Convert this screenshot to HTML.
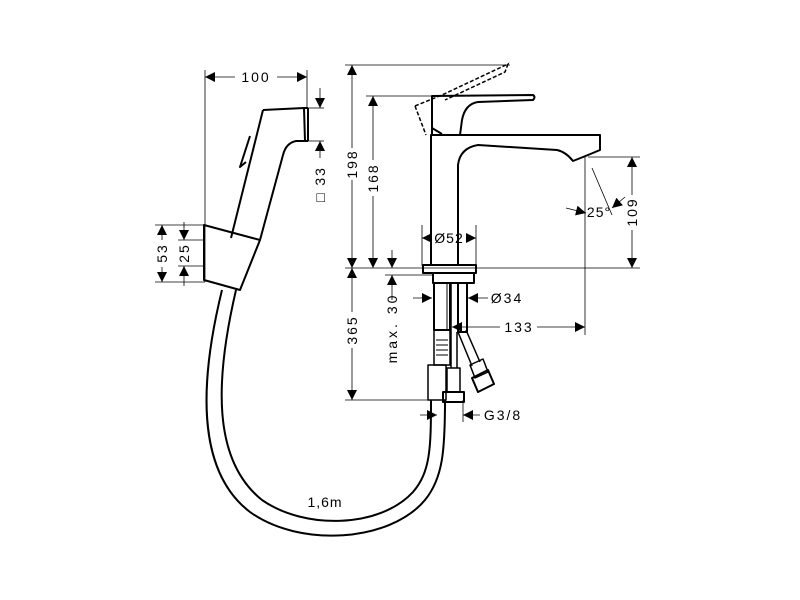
<!DOCTYPE html>
<html><head><meta charset="utf-8"><style>html,body{margin:0;padding:0;background:#fff}svg{display:block}</style></head>
<body>
<svg width="800" height="600" viewBox="0 0 800 600" xmlns="http://www.w3.org/2000/svg" font-family="Liberation Sans, sans-serif" font-size="13" fill="none" stroke="#000">
<defs>
<marker id="a" viewBox="0 0 10 10" refX="10" refY="5" markerWidth="11" markerHeight="10" orient="auto-start-reverse" markerUnits="userSpaceOnUse"><path d="M0,0 L10,5 L0,10z" fill="#000" stroke="none"/></marker>
</defs>
<g stroke-width="0.8">
<line x1="205" y1="70" x2="205" y2="282"/>
<line x1="307" y1="70" x2="307" y2="108"/>
<line x1="205" y1="77" x2="235" y2="77" marker-start="url(#a)"/>
<line x1="277" y1="77" x2="307" y2="77" marker-end="url(#a)"/>
<line x1="155" y1="225" x2="205" y2="225"/>
<line x1="155" y1="282" x2="205" y2="282"/>
<line x1="178" y1="240" x2="205" y2="240"/>
<line x1="178" y1="266" x2="205" y2="266"/>
<line x1="162" y1="240" x2="162" y2="225" marker-end="url(#a)"/>
<line x1="162" y1="267" x2="162" y2="282" marker-end="url(#a)"/>
<line x1="184" y1="222" x2="184" y2="240" marker-end="url(#a)"/>
<line x1="184" y1="286" x2="184" y2="266" marker-end="url(#a)"/>
<line x1="308" y1="108" x2="324" y2="108"/>
<line x1="308" y1="141" x2="324" y2="141"/>
<line x1="320" y1="88" x2="320" y2="108" marker-end="url(#a)"/>
<line x1="320" y1="158" x2="320" y2="141" marker-end="url(#a)"/>
<line x1="345" y1="65" x2="510" y2="65"/>
<line x1="366" y1="96" x2="432" y2="96"/>
<line x1="345" y1="268" x2="640" y2="268"/>
<line x1="352" y1="148" x2="352" y2="65" marker-end="url(#a)"/>
<line x1="352" y1="180" x2="352" y2="268" marker-end="url(#a)"/>
<line x1="373" y1="160" x2="373" y2="96" marker-end="url(#a)"/>
<line x1="373" y1="196" x2="373" y2="268" marker-end="url(#a)"/>
<line x1="345" y1="400" x2="440" y2="400"/>
<line x1="352" y1="312" x2="352" y2="268" marker-end="url(#a)"/>
<line x1="352" y1="348" x2="352" y2="400" marker-end="url(#a)"/>
<line x1="385" y1="275" x2="432" y2="275"/>
<line x1="392" y1="250" x2="392" y2="268" marker-end="url(#a)"/>
<line x1="392" y1="300" x2="392" y2="275" marker-end="url(#a)"/>
<line x1="422" y1="225" x2="422" y2="266"/>
<line x1="476" y1="225" x2="476" y2="266"/>
<line x1="432" y1="238" x2="422" y2="238" marker-end="url(#a)"/>
<line x1="466" y1="238" x2="476" y2="238" marker-end="url(#a)"/>
<line x1="413" y1="298" x2="432" y2="298" marker-end="url(#a)"/>
<line x1="488" y1="298" x2="468" y2="298" marker-end="url(#a)"/>
<line x1="500" y1="327" x2="452" y2="327" marker-end="url(#a)"/>
<line x1="585" y1="157" x2="585" y2="335"/>
<line x1="537" y1="327" x2="585" y2="327" marker-end="url(#a)"/>
<line x1="588" y1="157" x2="640" y2="157"/>
<line x1="632" y1="195" x2="632" y2="157" marker-end="url(#a)"/>
<line x1="632" y1="230" x2="632" y2="268" marker-end="url(#a)"/>
<line x1="592" y1="168" x2="612" y2="215"/>
<line x1="566" y1="208" x2="586" y2="213" marker-end="url(#a)"/>
<line x1="625" y1="197" x2="612" y2="208" marker-end="url(#a)"/>
<line x1="463" y1="400" x2="463" y2="422"/>
<line x1="420" y1="415" x2="437" y2="415" marker-end="url(#a)"/>
<line x1="480" y1="415" x2="463" y2="415" marker-end="url(#a)"/>
</g>
<g stroke-width="2" stroke-linejoin="round">
<path d="M263,110 L304,108 L305,141 L296,141 Q286,143 283,155 L260,240"/>
<path d="M263,110 L231,238"/>
<line x1="304" y1="108" x2="308" y2="108"/><line x1="308" y1="108" x2="308" y2="141"/><line x1="305" y1="141" x2="308" y2="141"/>
<path d="M250,136 L240,167 L246,162"/>
<path d="M204,225 L260,240 L240,290 L204,280 Z"/>
<path d="M222,290 C200,380 195,470 250,512 C300,548 390,542 425,500 C443,478 445,450 445,400"/>
<path d="M236,290 C215,380 212,460 262,500 C305,530 380,528 413,492 C430,472 431,450 431,400"/>
</g>
<g stroke-width="2" stroke-linejoin="round">
<path d="M431,265 L431,135 L600,135 L600,150 L588,155 L573,161 Q566,152 557,150 L478,145 Q460,148 458,165 L458,265"/>
<path d="M432,135 L432,96 L533,95 Q536,97 533,100 L478,102 Q465,104 462,120 L460,135"/>
<path d="M432,128 L442,134"/>
<path d="M423,265 L476,265 L476,273 L423,273 Z"/>
<path d="M433,273 L474,273 L474,283 L433,283 Z"/>
<path d="M434,283 L434,330 L450,330 L450,283"/>
<line x1="447" y1="283" x2="447" y2="330" stroke-width="1"/>
<path d="M458,283 L458,332 L467,332 L467,283"/>
<path d="M434,330 L434,365 L450,365 L450,330" stroke-width="1.5"/>
<path d="M436,340 L448,340 M436,345 L448,345 M436,350 L448,350 M436,355 L448,355" stroke-width="1"/>
<path d="M428,365 L446,365 L446,400 L428,400 Z" stroke-width="1.5"/>
<path d="M451,283 L451,368 M457,332 L457,368" stroke-width="1.5"/>
<path d="M447,368 L460,368 L460,392 L447,392 Z" stroke-width="1.5"/>
<path d="M443,392 L464,392 L464,402 L443,402 Z"/>
<path d="M458,332 L472,366 M466,330 L480,362" stroke-width="1.5"/>
<path d="M470,365 L483,359 L488,372 L475,378 Z" stroke-width="1.5"/>
<path d="M472,378 L488,370 L494,384 L478,392 Z"/>
</g>
<path d="M415,106 L442,95 L508,64 L505,72 L445,100 M415,106 L426,135" stroke-width="1.5" stroke-dasharray="4,2"/>
<g fill="#000" stroke="none" font-size="14" letter-spacing="2">
<text x="256" y="82" text-anchor="middle">100</text>
<text transform="translate(167,253) rotate(-90)" text-anchor="middle">53</text>
<text transform="translate(189,253) rotate(-90)" text-anchor="middle">25</text>
<text transform="translate(325,184) rotate(-90)" text-anchor="middle">□ 33</text>
<text transform="translate(357,164) rotate(-90)" text-anchor="middle">198</text>
<text transform="translate(378,178) rotate(-90)" text-anchor="middle">168</text>
<text transform="translate(357,330) rotate(-90)" text-anchor="middle">365</text>
<text transform="translate(397,328) rotate(-90)" text-anchor="middle" letter-spacing="3">max. 30</text>
<text x="449" y="243" text-anchor="middle" letter-spacing="1">Ø52</text>
<text x="507" y="303" text-anchor="middle">Ø34</text>
<text x="519" y="332" text-anchor="middle">133</text>
<text transform="translate(637,212) rotate(-90)" text-anchor="middle">109</text>
<text x="599" y="217" text-anchor="middle" letter-spacing="1">25°</text>
<text x="503" y="420" text-anchor="middle">G3/8</text>
<text x="325" y="507" text-anchor="middle" letter-spacing="1">1,6m</text>
</g>
</svg>
</body></html>
